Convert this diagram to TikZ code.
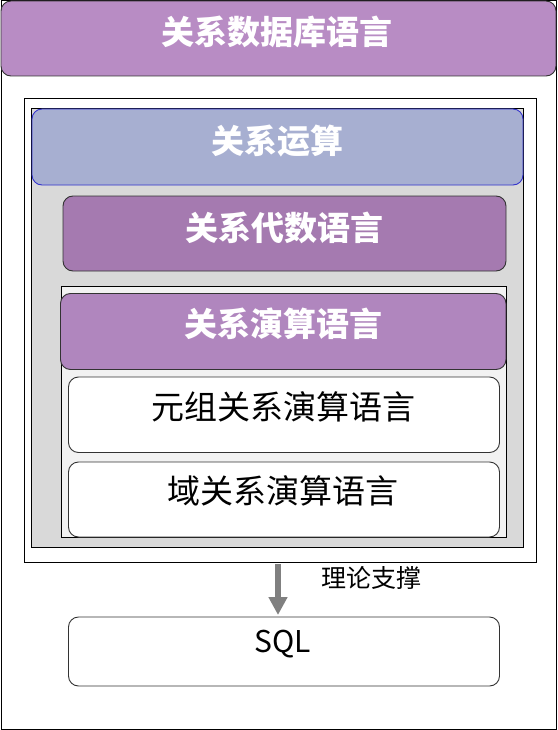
\documentclass[tikz,border=0pt]{standalone}
\usepackage{fontspec}
\setmainfont{Noto Sans CJK SC}
\usetikzlibrary{arrows.meta}
\definecolor{titlepurple}{HTML}{B88CC4}
\definecolor{bluefill}{HTML}{A7AFD1}
\definecolor{blueline}{HTML}{3333CC}
\definecolor{darkpurple}{HTML}{A57AB0}
\definecolor{midpurple}{HTML}{B086BE}
\definecolor{greyfill}{HTML}{D9D9D9}
\definecolor{lightfill}{HTML}{F2F2F2}
\definecolor{arrowgrey}{HTML}{808080}
\tikzset{
  frame/.style={draw=black, line width=1pt, inner sep=0pt, outer sep=0pt},
  rbox/.style={draw=black!80, line width=0.9pt, rounded corners=10pt, inner sep=0pt, outer sep=0pt},
  headtxt/.style={text=white, font=\bfseries\fontsize{33}{37}\selectfont, inner sep=0pt},
  bodytxt/.style={text=black, font=\fontsize{33}{37}\selectfont, inner sep=0pt},
  smalltxt/.style={text=black, font=\fontsize{25}{29}\selectfont, inner sep=0pt},
  arr/.style={draw=arrowgrey, line width=6pt, -{Triangle[width=18pt,length=18pt]}}
}
\begin{document}
\begin{tikzpicture}[x=1pt,y=-1pt]
\useasboundingbox (0,0) rectangle (557,730);
\fill[white] (0,0) rectangle (557,730);
% outer frame
\node[frame, minimum width=555pt, minimum height=728pt] (outer) at (278.5,365) {};
% title bar
\node[rbox, fill=titlepurple, minimum width=555pt, minimum height=75pt] (title) at (278.5,38.5) {};
\node[headtxt] (titlet) at (277,32) {关系数据库语言};
% inner frame
\node[frame, fill=white, minimum width=512.5pt, minimum height=463pt] (inner) at (280.25,330.5) {};
% grey panel
\node[frame, fill=greyfill, minimum width=492pt, minimum height=439pt] (grey) at (277.5,328) {};
% relational operations
\node[rbox, draw=blueline, fill=bluefill, minimum width=491pt, minimum height=76pt] (ops) at (277.5,147) {};
\node[headtxt] (opst) at (277.5,141) {关系运算};
% relational algebra
\node[rbox, fill=darkpurple, minimum width=443pt, minimum height=75pt] (alg) at (284.5,233.5) {};
\node[headtxt] (algt) at (284.5,227.5) {关系代数语言};
% calculus panel
\node[frame, fill=lightfill, minimum width=445.5pt, minimum height=251pt] (calcpanel) at (283.75,412) {};
\node[rbox, fill=midpurple, minimum width=445.5pt, minimum height=76pt] (calc) at (283.25,331.5) {};
\node[headtxt] (calct) at (283,324) {关系演算语言};
% tuple calculus
\node[rbox, fill=white, minimum width=431pt, minimum height=75.5pt] (tuple) at (284,414.75) {};
\node[bodytxt] (tuplet) at (283,407) {元组关系演算语言};
% domain calculus
\node[rbox, fill=white, minimum width=431pt, minimum height=75pt] (domain) at (284,499.5) {};
\node[bodytxt] (domaint) at (283,491) {域关系演算语言};
% SQL
\node[rbox, fill=white, minimum width=431pt, minimum height=69pt] (sql) at (284,651.5) {};
\node[bodytxt, font=\fontsize{30}{34}\selectfont] (sqlt) at (283,644) {SQL};
% arrow
\coordinate (ax) at (278,0);
\draw[arr, shorten <=2pt, shorten >=2pt] (ax |- inner.south) -- (ax |- sql.north);
\node[smalltxt] (theory) at (371,578) {理论支撑};
\end{tikzpicture}
\end{document}
